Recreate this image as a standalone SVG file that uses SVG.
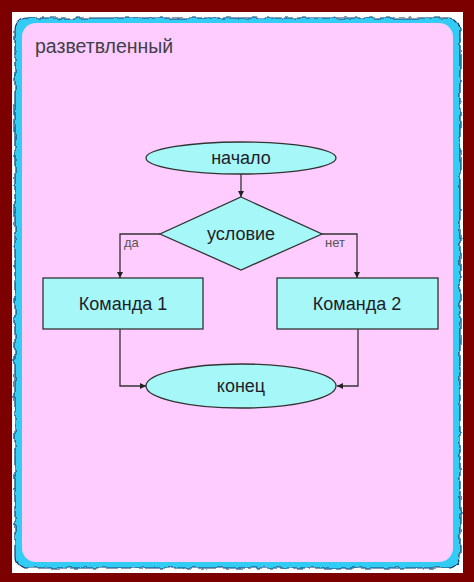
<svg xmlns="http://www.w3.org/2000/svg" width="474" height="582" viewBox="0 0 474 582">
<style>
.n{fill:#a6f7f7;stroke:#333;stroke-width:1.3}
.t{font-family:"Liberation Sans",Arial,sans-serif;font-size:18px;fill:#1e1e2a;text-anchor:middle}
.l{font-family:"Liberation Sans",Arial,sans-serif;font-size:13px;fill:#555}
.c{fill:none;stroke:#333;stroke-width:1.3}
</style>
<defs>
<marker id="a" viewBox="0 0 6 6" refX="6" refY="3" markerWidth="6" markerHeight="6" orient="auto" markerUnits="userSpaceOnUse">
<path d="M0,0 L6,3 L0,6 z" fill="#222"/>
</marker>
<filter id="w" x="-5%" y="-5%" width="110%" height="110%">
<feTurbulence type="fractalNoise" baseFrequency="0.12" numOctaves="2" seed="3"/>
<feDisplacementMap in="SourceGraphic" scale="5" xChannelSelector="R" yChannelSelector="G"/>
</filter>
</defs>
<rect x="0" y="0" width="474" height="582" fill="#7d0000"/>
<rect x="12" y="12" width="451" height="561" fill="#fff"/>
<rect x="15" y="18" width="445" height="550" rx="12" fill="#33ccf5" stroke="#1a3a6a" stroke-width="1.2" filter="url(#w)"/>
<rect x="22" y="23" width="431" height="539" rx="14" fill="#ffccff"/>
<text x="35" y="53" font-family="'Liberation Sans',Arial,sans-serif" font-size="19.5" fill="#40404a">разветвленный</text>
<g id="connectors">
<path class="c" d="M241,174 V197" marker-end="url(#a)"/>
<path class="c" d="M160,234 H120 V278" marker-end="url(#a)"/>
<path class="c" d="M322,234 H357 V278" marker-end="url(#a)"/>
<path class="c" d="M120,329 V386 H146" marker-end="url(#a)"/>
<path class="c" d="M358,329 V386 H337" marker-end="url(#a)"/>
<text class="l" x="124" y="247">да</text>
<text class="l" x="325" y="247">нет</text>
</g>
<g id="start">
<ellipse class="n" cx="241" cy="158" rx="95" ry="16"/>
<text class="t" x="241" y="164">начало</text>
</g>
<g id="condition">
<polygon class="n" points="241,197 322,234 241,270 160,234"/>
<text class="t" x="241" y="240">условие</text>
</g>
<g id="cmd1">
<rect class="n" x="43" y="278" width="160" height="51"/>
<text class="t" x="123" y="310">Команда 1</text>
</g>
<g id="cmd2">
<rect class="n" x="277" y="278" width="161" height="51"/>
<text class="t" x="357" y="310">Команда 2</text>
</g>
<g id="end">
<ellipse class="n" cx="241" cy="386" rx="95" ry="22"/>
<text class="t" x="241" y="392">конец</text>
</g>
</svg>
